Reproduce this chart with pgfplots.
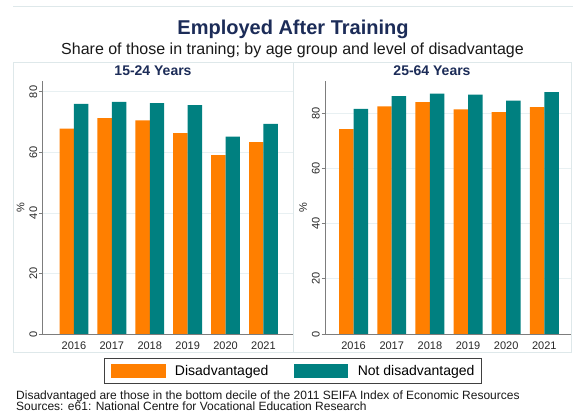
\documentclass[border=0pt]{standalone}
\usepackage{fontspec}
\setmainfont{Liberation Sans}
\usepackage{pgfplots}
\usepackage{pgfplotstable}
\pgfplotsset{compat=1.18}
\definecolor{dis}{RGB}{255,127,0}
\definecolor{notdis}{RGB}{0,128,128}
\definecolor{navy}{RGB}{28,44,88}
\definecolor{gridc}{RGB}{232,240,242}
\definecolor{framec}{RGB}{222,232,234}
\definecolor{axc}{RGB}{125,125,125}
\definecolor{txt}{RGB}{40,40,40}

\pgfplotstableread{
x dis notdis
0 67.9 76.0
1 71.3 76.7
2 70.6 76.3
3 66.4 75.6
4 59.1 65.2
5 63.4 69.4
}\young
\pgfplotstableread{
x dis notdis
0 74.3 81.6
1 82.5 86.2
2 84.0 87.1
3 81.4 86.8
4 80.4 84.6
5 82.2 87.7
}\older

\pgfplotsset{
  panel/.style={
    scale only axis, height=253bp, anchor=south west,
    ybar, bar width=0.38, ymin=0,
    axis x line*=bottom, axis y line*=left,
    axis line style={axc, line width=0.8bp},
    xtick={0,1,2,3,4,5},
    xticklabels={2016,2017,2018,2019,2020,2021},
    x tick style={draw=none},
    ytick={0,20,40,60,80},
    /pgf/number format/assume math mode=true,
    tick align=outside, major tick length=3.5bp,
    y tick style={axc, line width=0.8bp},
    ymajorgrids, grid style={gridc, line width=0.8bp},
    tick label style={font=\fontsize{11bp}{13bp}\selectfont, text=txt},
    yticklabel style={rotate=90, anchor=south, inner sep=1.5bp},
    xticklabel style={yshift=-1bp},
    ylabel={\%},
    ylabel style={font=\fontsize{11bp}{13bp}\selectfont, text=txt},
    every axis plot/.append style={draw=none},
    legend image code/.code={\fill[##1,draw=none] (0bp,-7bp) rectangle (54.7bp,7bp);},
  }
}

\begin{document}
\begin{tikzpicture}
\path[use as bounding box] (0,0) rectangle (573bp,412bp);
\fill[white] (0,0) rectangle (573bp,412bp);
% panel frames
\draw[framec, line width=0.8bp] (13bp,406bp) -- (573bp,406bp);
\draw[framec, line width=0.8bp] (13bp,350bp) rectangle (293bp,60bp);
\draw[framec, line width=0.8bp] (293bp,350bp) rectangle (571bp,60bp);

\begin{axis}[panel, at={(42.5bp,78bp)}, width=250.5bp,
  xmin=-0.83, xmax=5.78, ymax=83.6,
  legend style={at={(0.999,-0.1455)}, anchor=center, draw=black!75,
    line width=0.8bp, legend columns=2,
    font=\fontsize{14bp}{16bp}\selectfont,
    inner xsep=6.7bp, inner ysep=5.5bp,
    nodes={inner sep=0pt},
    /tikz/every odd column/.append style={column sep=9.3bp},
    /tikz/every even column/.append style={column sep=25.4bp}},
  ]
\addplot[fill=dis, bar shift=-0.19] table[x=x, y=dis] {\young};
\addlegendentry{Disadvantaged}
\addplot[fill=notdis, bar shift=0.19] table[x=x, y=notdis] {\young};
\addlegendentry{Not disadvantaged}
\end{axis}

\begin{axis}[panel, at={(325bp,78bp)}, width=246bp,
  xmin=-0.75, xmax=5.7, ymax=91.7]
\addplot[fill=dis, bar shift=-0.19] table[x=x, y=dis] {\older};
\addplot[fill=notdis, bar shift=0.19] table[x=x, y=notdis] {\older};
\end{axis}

\node[anchor=base, font=\fontsize{20bp}{24bp}\selectfont\bfseries, text=navy, inner sep=0pt] at (293bp,377bp) {Employed After Training};
\node[anchor=base, font=\fontsize{16bp}{19bp}\selectfont, text=black!90, inner sep=0pt] at (292.5bp,357bp) {Share of those in traning; by age group and level of disadvantage};
\node[anchor=base, font=\fontsize{14bp}{17bp}\selectfont\bfseries, text=navy, inner sep=0pt] at (153bp,336bp) {15-24 Years};
\node[anchor=base, font=\fontsize{14bp}{17bp}\selectfont\bfseries, text=navy, inner sep=0pt] at (432bp,336bp) {25-64 Years};
\node[anchor=base west, font=\fontsize{12bp}{14bp}\selectfont, text=black!90, inner sep=0pt] at (16bp,12.5bp) {Disadvantaged are those in the bottom decile of the 2011 SEIFA Index of Economic Resources};
\node[anchor=base west, font=\fontsize{12bp}{14bp}\selectfont, text=black!90, inner sep=0pt] at (16bp,1.2bp) {Sources: e61: National Centre for Vocational Education Research};
\end{tikzpicture}
\end{document}
